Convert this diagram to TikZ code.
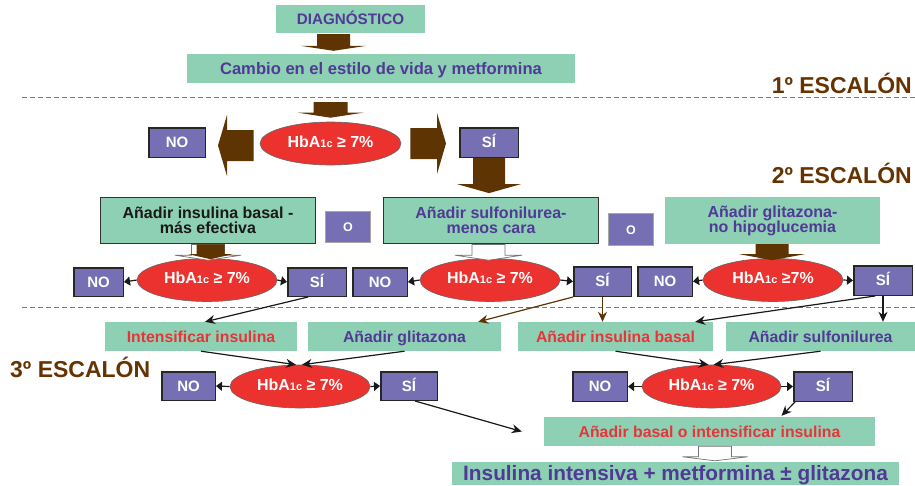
\documentclass[tikz,border=0pt]{standalone}
\usepackage{fontspec}
\setmainfont{Liberation Sans}
\usetikzlibrary{calc,arrows.meta,shapes.geometric}
\definecolor{mint}{RGB}{142,208,180}
\definecolor{pbox}{RGB}{118,111,180}
\definecolor{ptext}{RGB}{80,58,150}
\definecolor{redel}{RGB}{236,50,46}
\definecolor{redtx}{RGB}{232,52,56}
\definecolor{brn}{RGB}{94,52,2}
\definecolor{esc}{RGB}{102,51,0}
\definecolor{dashc}{RGB}{150,115,80}
% vertical block arrow: #1 start (shaft top centre), #2 tip, #3 shaft half width, #4 head half width, #5 head length, #6 style
\newcommand\blkv[6]{\path[#6] let \p1=(#1), \p2=(#2) in (\x1-#3,\y1) -- (\x1+#3,\y1) -- (\x1+#3,\y2+#5) -- (\x1+#4,\y2+#5) -- (\x1,\y2) -- (\x1-#4,\y2+#5) -- (\x1-#3,\y2+#5) -- cycle;}
% horizontal block arrow: #5 signed head length (positive: points left)
\newcommand\blkh[6]{\path[#6] let \p1=(#1), \p2=(#2) in (\x1,\y1-#3) -- (\x1,\y1+#3) -- (\x2+#5,\y1+#3) -- (\x2+#5,\y1+#4) -- (\x2,\y1) -- (\x2+#5,\y1-#4) -- (\x2+#5,\y1-#3) -- cycle;}
\tikzset{
  mbox/.style={fill=mint, inner sep=0pt, font=\bfseries\fontsize{16}{15}\selectfont},
  one/.style={text height=11.5pt, text depth=0pt},
  rbox/.style={fill=mint, inner sep=0pt, font=\bfseries\fontsize{15.8}{15}\selectfont, text height=11pt, text depth=0pt, minimum height=29pt},
  bord/.style={draw=black!80, line width=0.8pt},
  yn/.style={fill=pbox, draw=black!85, line width=1.5pt, inner sep=0pt, text=white,
    font=\bfseries\fontsize{15}{15}\selectfont, text height=10.8pt, text depth=0pt},
  obox/.style={fill=pbox, draw=black!35, line width=0.8pt, inner sep=0pt, text=white,
    font=\bfseries\fontsize{12.5}{12.5}\selectfont, text height=9pt, text depth=0pt, minimum width=45pt},
  hb/.style={ellipse, fill=redel, draw=black!60, line width=0.6pt, inner sep=0pt, text=white,
    font=\bfseries\fontsize{16}{16}\selectfont, minimum width=140pt, minimum height=43pt,
    text height=11.5pt, text depth=4pt},
  esca/.style={text=esc, font=\bfseries\fontsize{23}{23}\selectfont, inner sep=0pt},
  bfill/.style={fill=brn},
  wfill/.style={fill=white, draw=black!55, line width=0.7pt},
  tri/.style={draw=black!90, line width=1.2pt, -{Triangle[length=6pt,width=9pt]}},
  conn/.style={draw=black!90, line width=1.2pt, -{Stealth[length=10pt,width=9pt]}},
  connb/.style={draw=brn, line width=1.2pt, -{Stealth[length=10pt,width=9pt]}},
  dsh/.style={draw=dashc, line width=1pt, dash pattern=on 5pt off 3pt},
}
\newcommand\hba[1]{HbA{\fontsize{11}{11}\selectfont 1c}#1}
\begin{document}
\begin{tikzpicture}[x=1pt,y=-1pt]
\useasboundingbox (0,0) rectangle (915,485);
% separators
\draw[dsh] (22,97) -- (915,97);
\draw[dsh] (22,307) -- (915,307);
% step labels
\node[esca, anchor=base east] (s1) at (912,93) {1º ESCALÓN};
\node[esca, anchor=base east] (s2) at (912,183) {2º ESCALÓN};
\node[esca, anchor=base west] (s3) at (10,377) {3º ESCALÓN};
% top
\node[mbox, one, text=ptext, font=\bfseries\fontsize{15.2}{15}\selectfont, text height=11pt, minimum width=149pt, minimum height=28pt] (diag) at (350.5,19) {DIAGNÓSTICO};
\node[mbox, one, text=ptext, font=\bfseries\fontsize{16.6}{16}\selectfont, minimum width=388pt, minimum height=29pt] (cambio) at (381,68.5) {Cambio en el estilo de vida y metformina};
\blkv{$(diag.south)+(-17,1)$}{$(cambio.north)+(-48,-3)$}{16.5pt}{33pt}{5pt}{bfill}
% step 1 decision
\node[hb, minimum width=141pt] (e1) at (330.5,143.5) {\hba{ ≥ 7\%}};
\node[yn, minimum width=56.5pt, minimum height=29.5pt] (no1) at (177,142.5) {NO};
\node[yn, minimum width=58.5pt, minimum height=29.5pt] (si1) at (489,142.5) {SÍ};
\coordinate (a2s) at (330.5,102);
\blkv{a2s}{$(e1.north)+(0,-4)$}{17pt}{32.5pt}{5pt}{bfill}
\blkh{$(e1.west)+(-6,2)$}{$(no1.east)+(12,1)$}{15.5pt}{30.5pt}{9pt}{bfill}
\blkh{$(e1.east)+(9,0)$}{$(si1.west)+(-13,1)$}{15.5pt}{30.5pt}{-9pt}{bfill}
% step 2 boxes
\node[mbox, bord, align=center, minimum width=215pt, minimum height=46pt, text=black!90] (boxA) at (208,220.5) {Añadir insulina basal -\\más efectiva};
\node[obox, minimum height=31pt] (o1) at (348,227) {O};
\node[mbox, bord, align=center, minimum width=215pt, minimum height=46pt, text=ptext] (boxB) at (491,220.5) {Añadir sulfonilurea-\\menos cara};
\node[obox, minimum height=32pt] (o2) at (631,229.5) {O};
\node[mbox, align=center, minimum width=215pt, minimum height=47pt, text=ptext, text depth=3pt] (boxC) at (772.5,220.5) {Añadir glitazona-\\no hipoglucemia};
\blkv{si1.south}{$(boxB.north)+(0,-4)$}{16pt}{32pt}{9pt}{bfill}
% step 2 decisions
\node[hb] (e2a) at (207,280) {\hba{ ≥ 7\%}};
\node[yn, minimum width=49.5pt, minimum height=28.5pt] (no2a) at (98.5,282) {NO};
\node[yn, minimum width=58.5pt, minimum height=28.5pt] (si2a) at (317,282) {SÍ};
\node[hb] (e2b) at (490,280) {\hba{ ≥ 7\%}};
\node[yn, minimum width=54.5pt, minimum height=28.5pt] (no2b) at (380,282) {NO};
\node[yn, minimum width=57.5pt, minimum height=29.5pt] (si2b) at (602.5,281.5) {SÍ};
\node[hb] (e2c) at (773,280) {\hba{ ≥7\%}};
\node[yn, minimum width=54.5pt, minimum height=29.5pt] (no2c) at (665,281.5) {NO};
\node[yn, minimum width=58.5pt, minimum height=29.5pt] (si2c) at (883,280.5) {SÍ};
% arrows from step 2 boxes
\blkv{$(boxA.south)+(0,0.5)$}{$(e2a.north)+(1,2)$}{16.5pt}{33pt}{5pt}{wfill}
\blkv{$(boxA.south)+(2.5,0.5)$}{$(e2a.north)+(3.5,1)$}{14pt}{22pt}{5pt}{bfill}
\blkv{$(boxB.south)+(-2.5,0.5)$}{$(e2b.north)+(-1.5,2)$}{16.5pt}{33.5pt}{5pt}{wfill}
\blkv{$(boxC.south)+(-0.5,0)$}{$(e2c.north)+(-1,2)$}{16.5pt}{32.5pt}{6pt}{bfill}
\draw[tri] (e2a.west) -- (no2a.east);
\draw[tri] (e2a.east) -- (si2a.west);
\draw[tri] (e2b.west) -- (no2b.east);
\draw[tri] (e2b.east) -- (si2b.west);
\draw[tri] (e2c.west) -- (no2c.east);
\draw[tri] (e2c.east) -- (si2c.west);
% step 3 boxes
\node[rbox, text=redtx, minimum width=192pt] (intens) at (201,336.5) {Intensificar insulina};
\node[rbox, text=ptext, minimum width=193pt] (glit) at (404.5,336.5) {Añadir glitazona};
\node[rbox, text=redtx, minimum width=195pt] (insb) at (615.5,336.5) {Añadir insulina basal};
\node[rbox, text=ptext, minimum width=189pt] (sulf) at (820.5,336.5) {Añadir sulfonilurea};
% step 2 -> step 3
\draw[conn] ($(si2a.south)+(-9,0)$) -- ($(intens.north)+(4,0)$);
\draw[connb] (si2b.south west) -- ($(glit.north east)+(-23,0)$);
\draw[connb] (si2b.south) -- (si2b.south |- insb.north);
\draw[conn] ($(si2c.south)+(-8,0)$) -- ($(insb.north east)+(-18,0)$);
\draw[conn] (si2c.south) -- (si2c.south |- sulf.north);
% step 3 decisions
\node[hb] (e3a) at (300,386.5) {\hba{ ≥ 7\%}};
\node[yn, minimum width=53.5pt, minimum height=28.5pt] (no3a) at (188.5,386) {NO};
\node[yn, minimum width=56.5pt, minimum height=28.5pt] (si3a) at (409,386) {SÍ};
\node[hb, minimum width=139pt] (e3b) at (711.5,386.5) {\hba{ ≥ 7\%}};
\node[yn, minimum width=54.5pt, minimum height=29.5pt] (no3b) at (600,386.5) {NO};
\node[yn, minimum width=58.5pt, minimum height=29.5pt] (si3b) at (823,386.5) {SÍ};
\draw[conn] (intens.south) -- ($(e3a.north)+(-4,0)$);
\draw[conn] (glit.south) -- ($(e3a.north)+(2,0)$);
\draw[conn] (insb.south) -- ($(e3b.north)+(-3,0)$);
\draw[conn] (sulf.south) -- ($(e3b.north)+(2,0)$);
\draw[tri] (e3a.west) -- (no3a.east);
\draw[tri] (e3a.east) -- (si3a.west);
\draw[tri] (e3b.west) -- (no3b.east);
\draw[tri] (e3b.east) -- (si3b.west);
% final
\node[rbox, text=redtx, minimum width=331pt] (basalo) at (709.5,431.5) {Añadir basal o intensificar insulina};
\coordinate (free) at ($(basalo.west)+(-22,0)$);
\draw[conn] ($(si3a.south)+(6,0)$) -- (free);
\draw[conn] ($(si3b.south west)+(2,0)$) -- ($(basalo.north)+(72,-1)$);
\node[mbox, text=ptext, font=\bfseries\fontsize{20.8}{20.8}\selectfont, text height=14.5pt, text depth=0pt, minimum width=447pt, minimum height=23pt] (final) at (675.5,473.5) {Insulina intensiva + metformina ± glitazona};
\blkv{$(basalo.south)+(5.5,0)$}{$(final.north)+(0,-1)$}{16.5pt}{32.5pt}{4pt}{wfill}
\end{tikzpicture}
\end{document}
